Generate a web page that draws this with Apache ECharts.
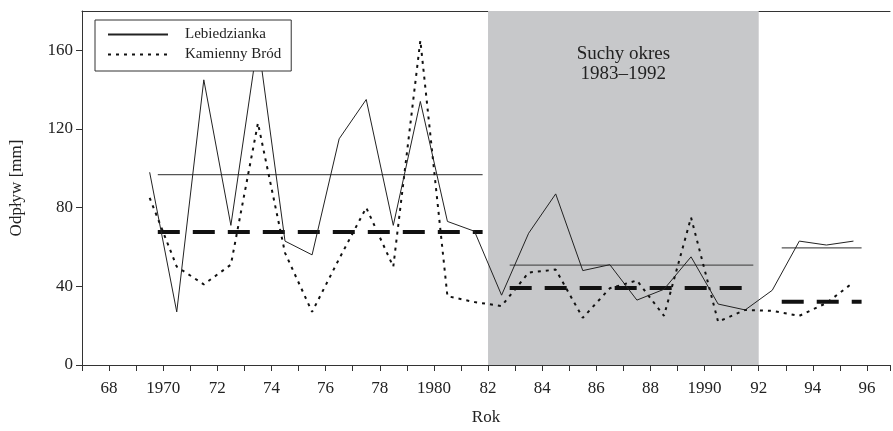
<!DOCTYPE html>
<html>
<head>
    <meta charset="UTF-8">
    <title>Odpływ</title>
    <script src="https://cdn.jsdelivr.net/npm/echarts@6/dist/echarts.min.js"></script>
    <style>
        html, body { margin: 0; padding: 0; background: #fff; }
        #main { width: 893px; height: 431px; }
    </style>
</head>
<body>
<div id="main"></div>
<script type="text/javascript">
    // lata pomiarow (punkt rysowany w polowie przedzialu roku)
    var years = [1970, 1971, 1972, 1973, 1974, 1975, 1976, 1977, 1978, 1979,
        1980, 1981, 1982, 1983, 1984, 1985, 1986, 1987, 1988, 1989,
        1990, 1991, 1992, 1993, 1994, 1995, 1996];
    var lebiedzianka = [98, 27, 145, 71, 165, 63, 56, 115, 135, 71,
        134, 73, 68, 35.5, 67, 87, 48, 51, 33, 38.5,
        55, 31, 28, 38, 63, 61, 63];
    var kamiennyBrod = [85, 50, 41, 51, 123, 57, 27, 54, 80, 50,
        165, 35, 32, 30, 47, 48.5, 24, 39, 43, 25,
        75, 22, 28, 27.5, 25, 31.5, 42];
    // srednie w okresach
    var meanFrom = [69.8, 82.8, 92.85];
    var meanTo = [81.8, 91.8, 95.8];
    var meanLeb = [96.8, 50.8, 59.6];
    var meanKam = [67.6, 39.2, 32.2];
    var dryFrom = 82, dryTo = 92;
    var yTicks = [0, 40, 80, 120, 160];

    var font = 'Liberation Serif';
    var chart = echarts.init(document.getElementById('main'));

    function pts(vals) {
        var out = [];
        for (var i = 0; i < years.length; i++) {
            out.push([years[i] - 1900.5, vals[i]]);
        }
        return out;
    }

    var series = [{
        name: 'Lebiedzianka',
        type: 'line',
        symbol: 'none',
        z: 4,
        color: '#222',
        lineStyle: {color: '#222', width: 1},
        data: pts(lebiedzianka),
        markArea: {
            silent: true,
            itemStyle: {color: '#c7c8ca'},
            label: {
                show: true,
                position: 'insideTop',
                distance: 33,
                fontFamily: font,
                fontSize: 19,
                lineHeight: 20,
                color: '#222'
            },
            data: [[{name: 'Suchy okres\n1983–1992', xAxis: dryFrom}, {xAxis: dryTo}]]
        }
    }, {
        name: 'Kamienny Bród',
        type: 'line',
        symbol: 'none',
        z: 3,
        color: '#111',
        lineStyle: {color: '#111', width: 2, type: [3, 5]},
        data: pts(kamiennyBrod)
    }];

    for (var i = 0; i < meanFrom.length; i++) {
        series.push({
            type: 'line', symbol: 'none', z: 2,
            lineStyle: {color: '#555', width: 1.3},
            data: [[meanFrom[i], meanLeb[i]], [meanTo[i], meanLeb[i]]]
        });
        series.push({
            type: 'line', symbol: 'none', z: 2,
            lineStyle: {color: '#111', width: 4, type: [22, 13]},
            data: [[meanFrom[i], meanKam[i]], [meanTo[i], meanKam[i]]]
        });
    }

    var option = {
        animation: false,
        backgroundColor: '#fff',
        textStyle: {fontFamily: font},
        grid: {left: 82, right: 0, top: 11, bottom: 59.5},
        legend: {
            data: ['Lebiedzianka', 'Kamienny Bród'],
            z: 10,
            orient: 'vertical',
            left: 95,
            top: 20,
            padding: [7, 10, 9, 12],
            itemWidth: 60,
            itemHeight: 14,
            itemGap: 5,
            backgroundColor: '#fff',
            borderColor: '#333',
            borderWidth: 1,
            borderRadius: 0,
            selectedMode: false,
            itemStyle: {color: 'rgba(0,0,0,0)', borderWidth: 0, opacity: 0},
            textStyle: {fontFamily: font, fontSize: 15, color: '#222', padding: [0, 0, 0, 12]}
        },
        xAxis: [{
            type: 'value',
            min: 67,
            max: 96.85,
            interval: 1,
            name: 'Rok',
            nameLocation: 'middle',
            nameGap: 44,
            nameTextStyle: {fontFamily: font, fontSize: 17, color: '#222'},
            splitLine: {show: false},
            axisLine: {show: true, lineStyle: {color: '#333', width: 1}},
            axisTick: {show: true, length: 6, lineStyle: {color: '#333'}},
            axisLabel: {
                fontFamily: font, fontSize: 17, color: '#222', margin: 15,
                formatter: function (v) {
                    if (v % 2 !== 0) return '';
                    return v % 10 === 0 ? String(1900 + v) : String(v);
                }
            }
        }, {
            type: 'value',
            position: 'top',
            min: 67,
            max: 96.85,
            axisLine: {show: true, lineStyle: {color: '#333', width: 1}},
            axisTick: {show: false},
            axisLabel: {show: false},
            splitLine: {show: false}
        }],
        yAxis: {
            type: 'value',
            min: 0,
            max: 180,
            interval: 40,
            name: 'Odpływ [mm]',
            nameLocation: 'middle',
            nameGap: 57,
            nameTextStyle: {fontFamily: font, fontSize: 17, color: '#222'},
            splitLine: {show: false},
            axisLine: {show: true, lineStyle: {color: '#333', width: 1}},
            axisTick: {show: true, length: 6, customValues: yTicks, lineStyle: {color: '#333'}},
            axisLabel: {
                fontFamily: font, fontSize: 17, color: '#222', margin: 9,
                customValues: yTicks,
                formatter: function (v) { return v % 40 === 0 ? String(v) : ''; }
            }
        },
        series: series
    };

    chart.setOption(option);
</script>
</body>
</html>
